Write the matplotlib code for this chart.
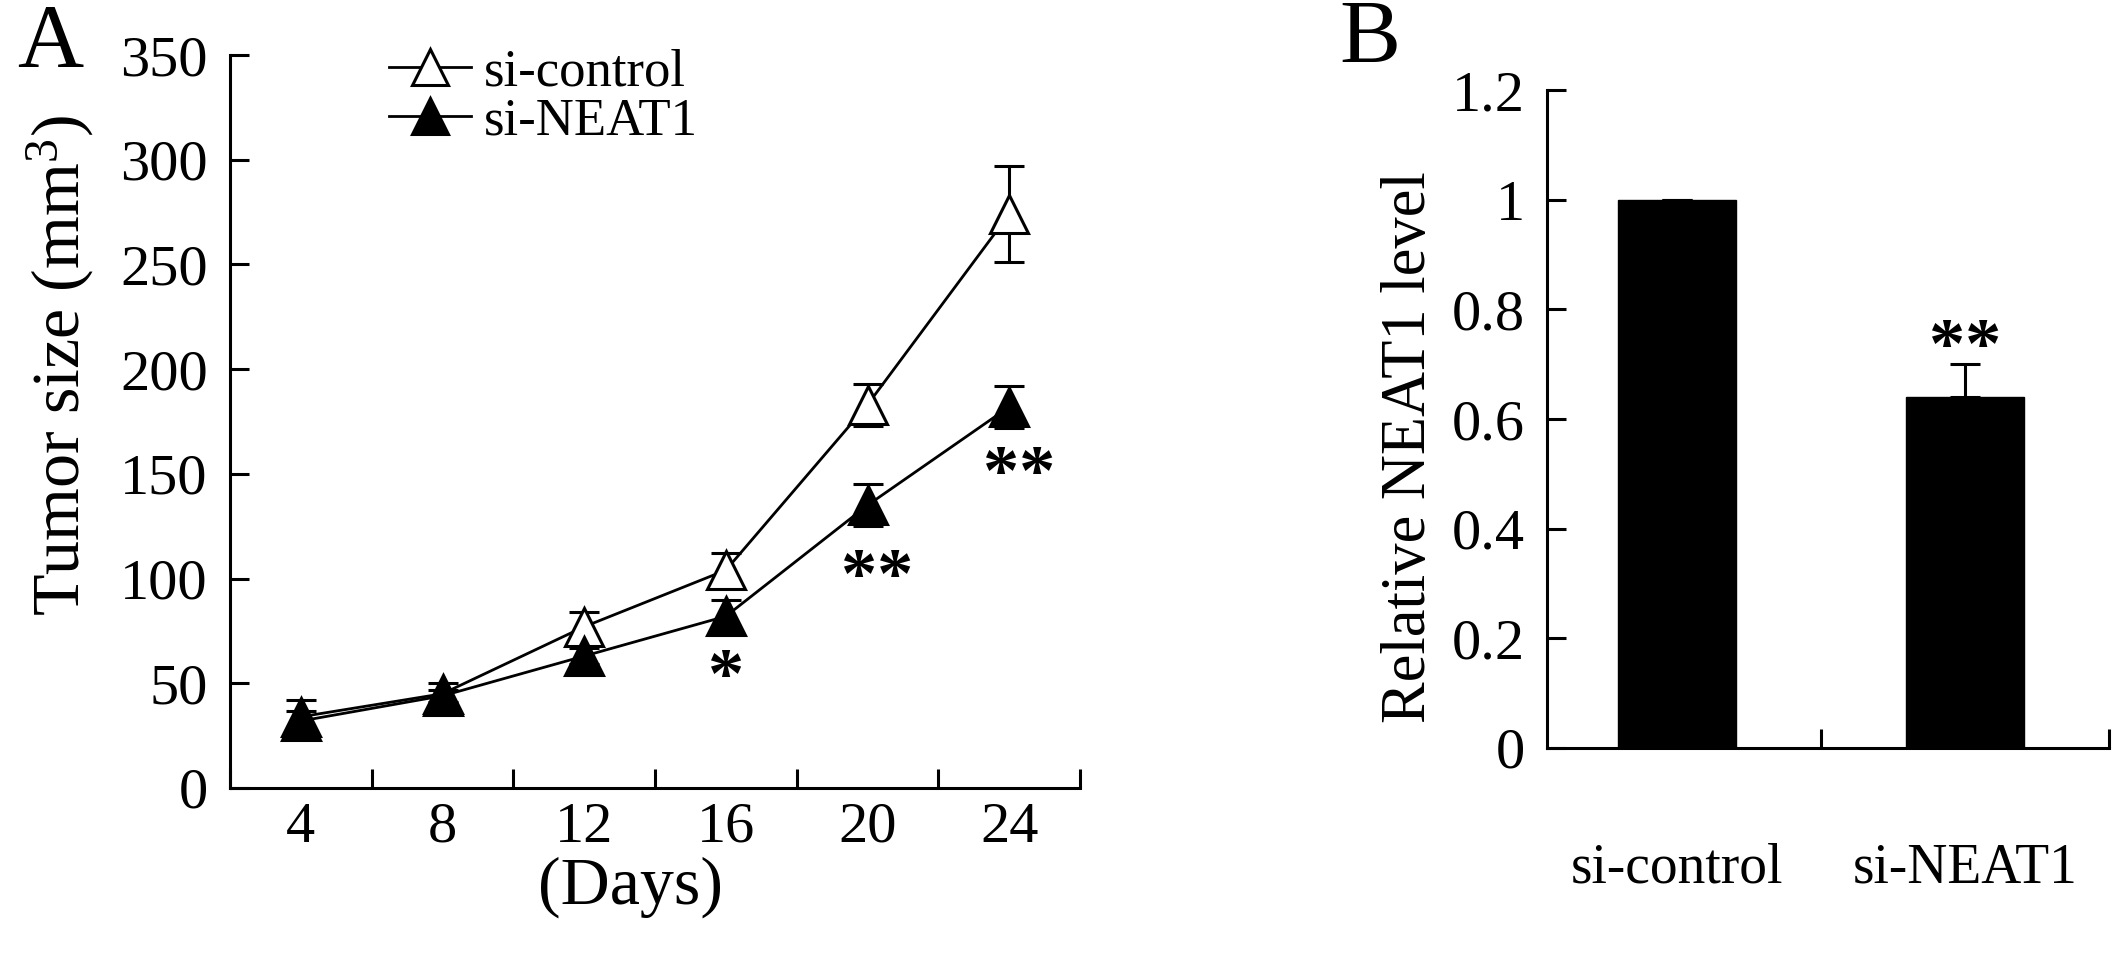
import matplotlib
matplotlib.use("Agg")
import matplotlib.pyplot as plt
from matplotlib.lines import Line2D
import numpy as np

plt.rcParams['font.family'] = ['Liberation Serif', 'DejaVu Serif']
plt.rcParams['mathtext.fontset'] = 'custom'
plt.rcParams['mathtext.rm'] = 'Liberation Serif'
plt.rcParams['mathtext.it'] = 'Liberation Serif:italic'

# ---- Panel A data ----
days = ["4", "8", "12", "16", "20", "24"]
ctrl_mean = [34, 45, 77, 104, 183, 274]
ctrl_err = [8, 5, 7, 8, 10, 23]
neat_mean = [32, 44, 63, 82, 135, 182]
neat_err = [5, 3, 4, 8, 10, 10]
a_yticks = [0, 50, 100, 150, 200, 250, 300, 350]
stars_a_idx = [3, 4, 5]
stars_a_y = [59, 107, 156]
stars_a_txt = ["*", "**", "**"]

# ---- Panel B data ----
groups = ["si-control", "si-NEAT1"]
level = [1.0, 0.64]
level_err = [0.0, 0.06]
b_yticks = [0, 0.2, 0.4, 0.6, 0.8, 1.0, 1.2]
b_ytick_labels = ["0", "0.2", "0.4", "0.6", "0.8", "1", "1.2"]
stars_b_y = [0.755]
stars_b_txt = ["**"]

W, H = 2126, 971
fig = plt.figure(figsize=(W / 100, H / 100), dpi=100)

def px_axes(l, t, r, b):
    return [l / W, 1 - b / H, (r - l) / W, (b - t) / H]

spine_lw = 2.2
tick_fs = 42
star_fs = 52
ms = 28

def star(ax, xv, yv, t):
    ax.annotate(t, (xv, yv), xytext=(0, -0.21 * star_fs), textcoords='offset points',
                ha='center', va='center', fontsize=star_fs, fontweight='bold',
                color='black')

# ---------------- Panel A ----------------
axA = fig.add_axes(px_axes(230, 55, 1080, 788))
x = np.arange(len(days))
axA.errorbar(x, ctrl_mean, yerr=ctrl_err, color='black', lw=2.0, marker='^',
             markersize=ms, markerfacecolor='white', markeredgecolor='black',
             markeredgewidth=2.2, ecolor='black', elinewidth=2.2, capsize=11,
             capthick=2.2, zorder=3)
axA.errorbar(x, neat_mean, yerr=neat_err, color='black', lw=2.0, marker='^',
             markersize=ms, markerfacecolor='black', markeredgecolor='black',
             markeredgewidth=2.2, ecolor='black', elinewidth=2.2, capsize=11,
             capthick=2.2, zorder=4)
for i, yv, t in zip(stars_a_idx, stars_a_y, stars_a_txt):
    star(axA, i + (0.07 if len(t) > 1 else 0.0), yv, t)

axA.set_xlim(-0.5, len(days) - 0.5)
axA.set_ylim(0, 350)
axA.set_yticks(a_yticks)
axA.set_yticklabels([str(v) for v in a_yticks])
axA.set_xticks(np.arange(-0.5, len(days), 1.0))
axA.set_xticklabels([])
axA.set_xticks(x, minor=True)
axA.set_xticklabels(days, minor=True)
axA.tick_params(axis='x', which='major', direction='in', length=14, width=spine_lw)
axA.tick_params(axis='x', which='minor', length=0, pad=10, labelsize=tick_fs)
axA.tick_params(axis='y', direction='in', length=14, width=spine_lw, pad=16,
                labelsize=tick_fs)
for s in ['top', 'right']:
    axA.spines[s].set_visible(False)
for s in ['left', 'bottom']:
    axA.spines[s].set_linewidth(spine_lw)

axA.set_ylabel(r'Tumor size (mm$^{\mathrm{3}}$)', fontsize=49)
axA.yaxis.label.set_va('center')
axA.yaxis.set_label_coords(-0.199, 0.576)
axA.set_xlabel('(Days)', fontsize=49)
axA.xaxis.label.set_va('center')
axA.xaxis.set_label_coords(0.471, -0.136)

handles = [
    Line2D([], [], color='black', lw=2.0, marker='^', markersize=ms - 2,
           markerfacecolor='white', markeredgecolor='black', markeredgewidth=2.2),
    Line2D([], [], color='black', lw=2.0, marker='^', markersize=ms - 2,
           markerfacecolor='black', markeredgecolor='black', markeredgewidth=2.2),
]
axA.legend(handles, ['si-control', 'si-NEAT1'], loc='center left',
           bbox_to_anchor=(0.187, 0.943), frameon=False, fontsize=38,
           handlelength=1.55, handletextpad=0.25, labelspacing=0.02,
           borderpad=0, borderaxespad=0)

fig.text(50 / W, 1 - 45 / H, 'A', fontsize=66, ha='center', va='center')

# ---------------- Panel B ----------------
axB = fig.add_axes(px_axes(1547, 90, 2109, 748))
xb = np.arange(len(groups))
axB.bar(xb, level, width=0.41, color='black', edgecolor='black', zorder=2)
axB.errorbar(xb, level, yerr=[[0] * len(level), level_err], fmt='none',
             ecolor='black', elinewidth=2.2, capsize=11, capthick=2.2, zorder=3)
for yv, t in zip(stars_b_y, stars_b_txt):
    star(axB, 1, yv, t)

axB.set_xlim(-0.45, len(groups) - 0.5)
axB.set_ylim(0, 1.2)
axB.set_yticks(b_yticks)
axB.set_yticklabels(b_ytick_labels)
axB.set_xticks(np.arange(0.5, len(groups), 1.0))
axB.set_xticklabels([])
axB.set_xticks(xb, minor=True)
axB.set_xticklabels(groups, minor=True)
axB.tick_params(axis='x', which='major', direction='in', length=14, width=spine_lw)
axB.tick_params(axis='x', which='minor', length=0, pad=68, labelsize=40)
axB.tick_params(axis='y', direction='in', length=14, width=spine_lw, pad=16,
                labelsize=tick_fs)
for s in ['top', 'right']:
    axB.spines[s].set_visible(False)
for s in ['left', 'bottom']:
    axB.spines[s].set_linewidth(spine_lw)

axB.set_ylabel('Relative NEAT1 level', fontsize=45)
axB.yaxis.label.set_va('center')
axB.yaxis.set_label_coords(-0.244, 0.457)

fig.text(1370 / W, 1 - 41 / H, 'B', fontsize=66, ha='center', va='center')

fig.savefig('out.png', dpi=100, facecolor='white')
